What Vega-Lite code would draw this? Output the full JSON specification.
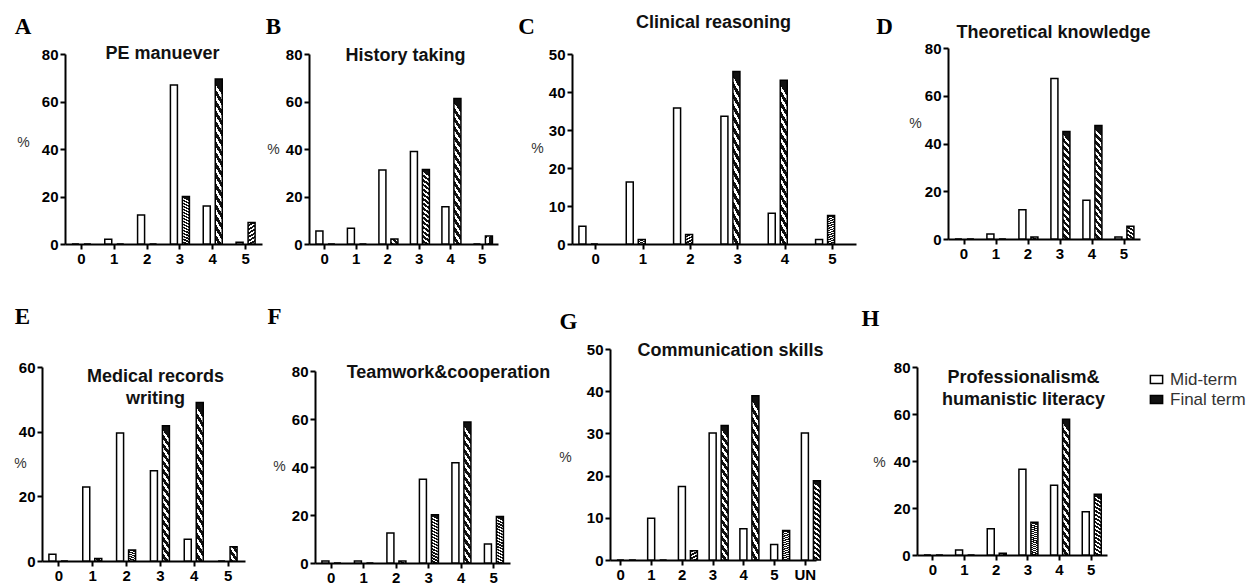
{
 "$schema": "https://vega.github.io/schema/vega-lite/v6.json",
 "background": "white",
 "padding": {"left": 13, "top": 13, "right": 5, "bottom": 5},
 "datasets": {
  "A": [
   {"cat":"0","term":"Mid-term","pct":0},{"cat":"0","term":"Final term","pct":0},
   {"cat":"1","term":"Mid-term","pct":2.0},{"cat":"1","term":"Final term","pct":0},
   {"cat":"2","term":"Mid-term","pct":12.2},{"cat":"2","term":"Final term","pct":0},
   {"cat":"3","term":"Mid-term","pct":67.0},{"cat":"3","term":"Final term","pct":20.0},
   {"cat":"4","term":"Mid-term","pct":16.0},{"cat":"4","term":"Final term","pct":69.5},
   {"cat":"5","term":"Mid-term","pct":0.7},{"cat":"5","term":"Final term","pct":9.1}
  ],
  "B": [
   {"cat":"0","term":"Mid-term","pct":5.5},{"cat":"0","term":"Final term","pct":0},
   {"cat":"1","term":"Mid-term","pct":6.6},{"cat":"1","term":"Final term","pct":0},
   {"cat":"2","term":"Mid-term","pct":31.2},{"cat":"2","term":"Final term","pct":2.1},
   {"cat":"3","term":"Mid-term","pct":38.9},{"cat":"3","term":"Final term","pct":31.4},
   {"cat":"4","term":"Mid-term","pct":15.7},{"cat":"4","term":"Final term","pct":61.3},
   {"cat":"5","term":"Mid-term","pct":0},{"cat":"5","term":"Final term","pct":3.4}
  ],
  "C": [
   {"cat":"0","term":"Mid-term","pct":4.7},{"cat":"0","term":"Final term","pct":0},
   {"cat":"1","term":"Mid-term","pct":16.3},{"cat":"1","term":"Final term","pct":1.2},
   {"cat":"2","term":"Mid-term","pct":35.8},{"cat":"2","term":"Final term","pct":2.5},
   {"cat":"3","term":"Mid-term","pct":33.6},{"cat":"3","term":"Final term","pct":45.4},
   {"cat":"4","term":"Mid-term","pct":8.1},{"cat":"4","term":"Final term","pct":43.1},
   {"cat":"5","term":"Mid-term","pct":1.2},{"cat":"5","term":"Final term","pct":7.5}
  ],
  "D": [
   {"cat":"0","term":"Mid-term","pct":0},{"cat":"0","term":"Final term","pct":0},
   {"cat":"1","term":"Mid-term","pct":2.1},{"cat":"1","term":"Final term","pct":0},
   {"cat":"2","term":"Mid-term","pct":12.3},{"cat":"2","term":"Final term","pct":0.8},
   {"cat":"3","term":"Mid-term","pct":67.2},{"cat":"3","term":"Final term","pct":45.0},
   {"cat":"4","term":"Mid-term","pct":16.2},{"cat":"4","term":"Final term","pct":47.5},
   {"cat":"5","term":"Mid-term","pct":0.8},{"cat":"5","term":"Final term","pct":5.3}
  ],
  "E": [
   {"cat":"0","term":"Mid-term","pct":2.1},{"cat":"0","term":"Final term","pct":0},
   {"cat":"1","term":"Mid-term","pct":22.9},{"cat":"1","term":"Final term","pct":0.8},
   {"cat":"2","term":"Mid-term","pct":39.6},{"cat":"2","term":"Final term","pct":3.4},
   {"cat":"3","term":"Mid-term","pct":27.9},{"cat":"3","term":"Final term","pct":41.8},
   {"cat":"4","term":"Mid-term","pct":6.7},{"cat":"4","term":"Final term","pct":49.0},
   {"cat":"5","term":"Mid-term","pct":0},{"cat":"5","term":"Final term","pct":4.4}
  ],
  "F": [
   {"cat":"0","term":"Mid-term","pct":0.8},{"cat":"0","term":"Final term","pct":0},
   {"cat":"1","term":"Mid-term","pct":0.8},{"cat":"1","term":"Final term","pct":0},
   {"cat":"2","term":"Mid-term","pct":12.5},{"cat":"2","term":"Final term","pct":0.8},
   {"cat":"3","term":"Mid-term","pct":34.9},{"cat":"3","term":"Final term","pct":20.1},
   {"cat":"4","term":"Mid-term","pct":41.8},{"cat":"4","term":"Final term","pct":58.8},
   {"cat":"5","term":"Mid-term","pct":7.9},{"cat":"5","term":"Final term","pct":19.4}
  ],
  "G": [
   {"cat":"0","term":"Mid-term","pct":0},{"cat":"0","term":"Final term","pct":0},
   {"cat":"1","term":"Mid-term","pct":9.9},{"cat":"1","term":"Final term","pct":0},
   {"cat":"2","term":"Mid-term","pct":17.4},{"cat":"2","term":"Final term","pct":2.2},
   {"cat":"3","term":"Mid-term","pct":30.1},{"cat":"3","term":"Final term","pct":31.9},
   {"cat":"4","term":"Mid-term","pct":7.4},{"cat":"4","term":"Final term","pct":38.9},
   {"cat":"5","term":"Mid-term","pct":3.7},{"cat":"5","term":"Final term","pct":7.0},
   {"cat":"UN","term":"Mid-term","pct":30.1},{"cat":"UN","term":"Final term","pct":18.8}
  ],
  "H": [
   {"cat":"0","term":"Mid-term","pct":0},{"cat":"0","term":"Final term","pct":0},
   {"cat":"1","term":"Mid-term","pct":2.1},{"cat":"1","term":"Final term","pct":0},
   {"cat":"2","term":"Mid-term","pct":11.2},{"cat":"2","term":"Final term","pct":0.7},
   {"cat":"3","term":"Mid-term","pct":36.5},{"cat":"3","term":"Final term","pct":13.9},
   {"cat":"4","term":"Mid-term","pct":29.7},{"cat":"4","term":"Final term","pct":57.8},
   {"cat":"5","term":"Mid-term","pct":18.4},{"cat":"5","term":"Final term","pct":25.9}
  ]
 },
 "concat": [
  {
   "width": 267, "height": 190,
   "data": {"name": "A"},
   "layer": [
    {"transform": [{"filter": "datum.term === 'Mid-term'"}],
     "mark": {"type": "bar", "fill": "white", "stroke": "black", "strokeWidth": 1.5},
     "encoding": {
      "x": {"field": "cat", "type": "nominal", "scale": {"domain": ["0","1","2","3","4","5"], "range": [23, 220], "paddingInner": 0, "paddingOuter": 0}, "axis": {"title": "A", "titleX": -19.5, "titleY": -211}},
      "xOffset": {"field": "term", "type": "nominal", "scale": {"domain": ["Mid-term","Final term"], "paddingInner": 0.4167, "paddingOuter": 0.576}},
      "y": {"field": "pct", "type": "quantitative", "scale": {"domain": [0, 80], "nice": false}, "axis": {"values": [0,20,40,60,80], "title": "%", "offset": -23, "titleX": -42, "titleY": 88}}
     }},
    {"transform": [{"filter": "datum.term === 'Final term'"}],
     "mark": {"type": "bar", "stroke": "black", "strokeWidth": 1.5, "fill": {"gradient": "linear", "x1": 0.07, "y1": 0, "x2": 0, "y2": 1, "stops": [{"offset": 0, "color": "#111111"}, {"offset": 0.0344, "color": "#111111"}, {"offset": 0.0344, "color": "#ffffff"}, {"offset": 0.0625, "color": "#ffffff"}, {"offset": 0.0625, "color": "#111111"}, {"offset": 0.0969, "color": "#111111"}, {"offset": 0.0969, "color": "#ffffff"}, {"offset": 0.125, "color": "#ffffff"}, {"offset": 0.125, "color": "#111111"}, {"offset": 0.1594, "color": "#111111"}, {"offset": 0.1594, "color": "#ffffff"}, {"offset": 0.1875, "color": "#ffffff"}, {"offset": 0.1875, "color": "#111111"}, {"offset": 0.2219, "color": "#111111"}, {"offset": 0.2219, "color": "#ffffff"}, {"offset": 0.25, "color": "#ffffff"}, {"offset": 0.25, "color": "#111111"}, {"offset": 0.2844, "color": "#111111"}, {"offset": 0.2844, "color": "#ffffff"}, {"offset": 0.3125, "color": "#ffffff"}, {"offset": 0.3125, "color": "#111111"}, {"offset": 0.3469, "color": "#111111"}, {"offset": 0.3469, "color": "#ffffff"}, {"offset": 0.375, "color": "#ffffff"}, {"offset": 0.375, "color": "#111111"}, {"offset": 0.4094, "color": "#111111"}, {"offset": 0.4094, "color": "#ffffff"}, {"offset": 0.4375, "color": "#ffffff"}, {"offset": 0.4375, "color": "#111111"}, {"offset": 0.4719, "color": "#111111"}, {"offset": 0.4719, "color": "#ffffff"}, {"offset": 0.5, "color": "#ffffff"}, {"offset": 0.5, "color": "#111111"}, {"offset": 0.5344, "color": "#111111"}, {"offset": 0.5344, "color": "#ffffff"}, {"offset": 0.5625, "color": "#ffffff"}, {"offset": 0.5625, "color": "#111111"}, {"offset": 0.5969, "color": "#111111"}, {"offset": 0.5969, "color": "#ffffff"}, {"offset": 0.625, "color": "#ffffff"}, {"offset": 0.625, "color": "#111111"}, {"offset": 0.6594, "color": "#111111"}, {"offset": 0.6594, "color": "#ffffff"}, {"offset": 0.6875, "color": "#ffffff"}, {"offset": 0.6875, "color": "#111111"}, {"offset": 0.7219, "color": "#111111"}, {"offset": 0.7219, "color": "#ffffff"}, {"offset": 0.75, "color": "#ffffff"}, {"offset": 0.75, "color": "#111111"}, {"offset": 0.7844, "color": "#111111"}, {"offset": 0.7844, "color": "#ffffff"}, {"offset": 0.8125, "color": "#ffffff"}, {"offset": 0.8125, "color": "#111111"}, {"offset": 0.8469, "color": "#111111"}, {"offset": 0.8469, "color": "#ffffff"}, {"offset": 0.875, "color": "#ffffff"}, {"offset": 0.875, "color": "#111111"}, {"offset": 0.9094, "color": "#111111"}, {"offset": 0.9094, "color": "#ffffff"}, {"offset": 0.9375, "color": "#ffffff"}, {"offset": 0.9375, "color": "#111111"}, {"offset": 0.9719, "color": "#111111"}, {"offset": 0.9719, "color": "#ffffff"}, {"offset": 1, "color": "#ffffff"}]}},
     "encoding": {
      "x": {"field": "cat", "type": "nominal", "axis": {"orient": "top", "title": "PE manuever", "titleX": 120, "titleY": -1}},
      "xOffset": {"field": "term", "type": "nominal"},
      "y": {"field": "pct", "type": "quantitative", "axis": null}
     }}
   ],
   "resolve": {"axis": {"x": "independent", "y": "independent"}}
  },
  {
   "width": 263, "height": 190,
   "data": {"name": "B"},
   "layer": [
    {"transform": [{"filter": "datum.term === 'Mid-term'"}],
     "mark": {"type": "bar", "fill": "white", "stroke": "black", "strokeWidth": 1.5},
     "encoding": {
      "x": {"field": "cat", "type": "nominal", "scale": {"domain": ["0","1","2","3","4","5"], "range": [0, 189], "paddingInner": 0, "paddingOuter": 0}, "axis": {"title": "B", "titleX": -36, "titleY": -211}},
      "xOffset": {"field": "term", "type": "nominal", "scale": {"domain": ["Mid-term","Final term"], "paddingInner": 0.4167, "paddingOuter": 0.521}},
      "y": {"field": "pct", "type": "quantitative", "scale": {"domain": [0, 80], "nice": false}, "axis": {"values": [0,20,40,60,80], "title": "%", "titleX": -36, "titleY": 95}}
     }},
    {"transform": [{"filter": "datum.term === 'Final term'"}],
     "mark": {"type": "bar", "stroke": "black", "strokeWidth": 1.5, "fill": {"gradient": "linear", "x1": 0.07, "y1": 0, "x2": 0, "y2": 1, "stops": [{"offset": 0, "color": "#111111"}, {"offset": 0.0344, "color": "#111111"}, {"offset": 0.0344, "color": "#ffffff"}, {"offset": 0.0625, "color": "#ffffff"}, {"offset": 0.0625, "color": "#111111"}, {"offset": 0.0969, "color": "#111111"}, {"offset": 0.0969, "color": "#ffffff"}, {"offset": 0.125, "color": "#ffffff"}, {"offset": 0.125, "color": "#111111"}, {"offset": 0.1594, "color": "#111111"}, {"offset": 0.1594, "color": "#ffffff"}, {"offset": 0.1875, "color": "#ffffff"}, {"offset": 0.1875, "color": "#111111"}, {"offset": 0.2219, "color": "#111111"}, {"offset": 0.2219, "color": "#ffffff"}, {"offset": 0.25, "color": "#ffffff"}, {"offset": 0.25, "color": "#111111"}, {"offset": 0.2844, "color": "#111111"}, {"offset": 0.2844, "color": "#ffffff"}, {"offset": 0.3125, "color": "#ffffff"}, {"offset": 0.3125, "color": "#111111"}, {"offset": 0.3469, "color": "#111111"}, {"offset": 0.3469, "color": "#ffffff"}, {"offset": 0.375, "color": "#ffffff"}, {"offset": 0.375, "color": "#111111"}, {"offset": 0.4094, "color": "#111111"}, {"offset": 0.4094, "color": "#ffffff"}, {"offset": 0.4375, "color": "#ffffff"}, {"offset": 0.4375, "color": "#111111"}, {"offset": 0.4719, "color": "#111111"}, {"offset": 0.4719, "color": "#ffffff"}, {"offset": 0.5, "color": "#ffffff"}, {"offset": 0.5, "color": "#111111"}, {"offset": 0.5344, "color": "#111111"}, {"offset": 0.5344, "color": "#ffffff"}, {"offset": 0.5625, "color": "#ffffff"}, {"offset": 0.5625, "color": "#111111"}, {"offset": 0.5969, "color": "#111111"}, {"offset": 0.5969, "color": "#ffffff"}, {"offset": 0.625, "color": "#ffffff"}, {"offset": 0.625, "color": "#111111"}, {"offset": 0.6594, "color": "#111111"}, {"offset": 0.6594, "color": "#ffffff"}, {"offset": 0.6875, "color": "#ffffff"}, {"offset": 0.6875, "color": "#111111"}, {"offset": 0.7219, "color": "#111111"}, {"offset": 0.7219, "color": "#ffffff"}, {"offset": 0.75, "color": "#ffffff"}, {"offset": 0.75, "color": "#111111"}, {"offset": 0.7844, "color": "#111111"}, {"offset": 0.7844, "color": "#ffffff"}, {"offset": 0.8125, "color": "#ffffff"}, {"offset": 0.8125, "color": "#111111"}, {"offset": 0.8469, "color": "#111111"}, {"offset": 0.8469, "color": "#ffffff"}, {"offset": 0.875, "color": "#ffffff"}, {"offset": 0.875, "color": "#111111"}, {"offset": 0.9094, "color": "#111111"}, {"offset": 0.9094, "color": "#ffffff"}, {"offset": 0.9375, "color": "#ffffff"}, {"offset": 0.9375, "color": "#111111"}, {"offset": 0.9719, "color": "#111111"}, {"offset": 0.9719, "color": "#ffffff"}, {"offset": 1, "color": "#ffffff"}]}},
     "encoding": {
      "x": {"field": "cat", "type": "nominal", "axis": {"orient": "top", "title": "History taking", "titleX": 96, "titleY": 1}},
      "xOffset": {"field": "term", "type": "nominal"},
      "y": {"field": "pct", "type": "quantitative", "axis": null}
     }}
   ],
   "resolve": {"axis": {"x": "independent", "y": "independent"}}
  },
  {
   "width": 345, "height": 190,
   "data": {"name": "C"},
   "layer": [
    {"transform": [{"filter": "datum.term === 'Mid-term'"}],
     "mark": {"type": "bar", "fill": "white", "stroke": "black", "strokeWidth": 1.5},
     "encoding": {
      "x": {"field": "cat", "type": "nominal", "scale": {"domain": ["0","1","2","3","4","5"], "range": [0, 284], "paddingInner": 0, "paddingOuter": 0}, "axis": {"title": "C", "titleX": -46, "titleY": -211}},
      "xOffset": {"field": "term", "type": "nominal", "scale": {"domain": ["Mid-term","Final term"], "paddingInner": 0.4737, "paddingOuter": 0.482}},
      "y": {"field": "pct", "type": "quantitative", "scale": {"domain": [0, 50], "nice": false}, "axis": {"values": [0,10,20,30,40,50], "title": "%", "titleX": -35, "titleY": 94}}
     }},
    {"transform": [{"filter": "datum.term === 'Final term'"}],
     "mark": {"type": "bar", "stroke": "black", "strokeWidth": 1.5, "fill": {"gradient": "linear", "x1": 0.07, "y1": 0, "x2": 0, "y2": 1, "stops": [{"offset": 0, "color": "#111111"}, {"offset": 0.0344, "color": "#111111"}, {"offset": 0.0344, "color": "#ffffff"}, {"offset": 0.0625, "color": "#ffffff"}, {"offset": 0.0625, "color": "#111111"}, {"offset": 0.0969, "color": "#111111"}, {"offset": 0.0969, "color": "#ffffff"}, {"offset": 0.125, "color": "#ffffff"}, {"offset": 0.125, "color": "#111111"}, {"offset": 0.1594, "color": "#111111"}, {"offset": 0.1594, "color": "#ffffff"}, {"offset": 0.1875, "color": "#ffffff"}, {"offset": 0.1875, "color": "#111111"}, {"offset": 0.2219, "color": "#111111"}, {"offset": 0.2219, "color": "#ffffff"}, {"offset": 0.25, "color": "#ffffff"}, {"offset": 0.25, "color": "#111111"}, {"offset": 0.2844, "color": "#111111"}, {"offset": 0.2844, "color": "#ffffff"}, {"offset": 0.3125, "color": "#ffffff"}, {"offset": 0.3125, "color": "#111111"}, {"offset": 0.3469, "color": "#111111"}, {"offset": 0.3469, "color": "#ffffff"}, {"offset": 0.375, "color": "#ffffff"}, {"offset": 0.375, "color": "#111111"}, {"offset": 0.4094, "color": "#111111"}, {"offset": 0.4094, "color": "#ffffff"}, {"offset": 0.4375, "color": "#ffffff"}, {"offset": 0.4375, "color": "#111111"}, {"offset": 0.4719, "color": "#111111"}, {"offset": 0.4719, "color": "#ffffff"}, {"offset": 0.5, "color": "#ffffff"}, {"offset": 0.5, "color": "#111111"}, {"offset": 0.5344, "color": "#111111"}, {"offset": 0.5344, "color": "#ffffff"}, {"offset": 0.5625, "color": "#ffffff"}, {"offset": 0.5625, "color": "#111111"}, {"offset": 0.5969, "color": "#111111"}, {"offset": 0.5969, "color": "#ffffff"}, {"offset": 0.625, "color": "#ffffff"}, {"offset": 0.625, "color": "#111111"}, {"offset": 0.6594, "color": "#111111"}, {"offset": 0.6594, "color": "#ffffff"}, {"offset": 0.6875, "color": "#ffffff"}, {"offset": 0.6875, "color": "#111111"}, {"offset": 0.7219, "color": "#111111"}, {"offset": 0.7219, "color": "#ffffff"}, {"offset": 0.75, "color": "#ffffff"}, {"offset": 0.75, "color": "#111111"}, {"offset": 0.7844, "color": "#111111"}, {"offset": 0.7844, "color": "#ffffff"}, {"offset": 0.8125, "color": "#ffffff"}, {"offset": 0.8125, "color": "#111111"}, {"offset": 0.8469, "color": "#111111"}, {"offset": 0.8469, "color": "#ffffff"}, {"offset": 0.875, "color": "#ffffff"}, {"offset": 0.875, "color": "#111111"}, {"offset": 0.9094, "color": "#111111"}, {"offset": 0.9094, "color": "#ffffff"}, {"offset": 0.9375, "color": "#ffffff"}, {"offset": 0.9375, "color": "#111111"}, {"offset": 0.9719, "color": "#111111"}, {"offset": 0.9719, "color": "#ffffff"}, {"offset": 1, "color": "#ffffff"}]}},
     "encoding": {
      "x": {"field": "cat", "type": "nominal", "axis": {"orient": "top", "title": "Clinical reasoning", "titleX": 141, "titleY": -32}},
      "xOffset": {"field": "term", "type": "nominal"},
      "y": {"field": "pct", "type": "quantitative", "axis": null}
     }}
   ],
   "resolve": {"axis": {"x": "independent", "y": "independent"}}
  },
  {
   "width": 223, "height": 185,
   "data": {"name": "D"},
   "layer": [
    {"transform": [{"filter": "datum.term === 'Mid-term'"}],
     "mark": {"type": "bar", "fill": "white", "stroke": "black", "strokeWidth": 1.5},
     "encoding": {
      "x": {"field": "cat", "type": "nominal", "scale": {"domain": ["0","1","2","3","4","5"], "range": [31, 223], "paddingInner": 0, "paddingOuter": 0}, "axis": {"title": "D", "titleX": -33, "titleY": -206}},
      "xOffset": {"field": "term", "type": "nominal", "scale": {"domain": ["Mid-term","Final term"], "paddingInner": 0.4167, "paddingOuter": 0.542}},
      "y": {"field": "pct", "type": "quantitative", "scale": {"domain": [0, 80], "nice": false, "range": [185, -6]}, "axis": {"values": [0,20,40,60,80], "title": "%", "offset": -31, "titleX": -33, "titleY": 69}}
     }},
    {"transform": [{"filter": "datum.term === 'Final term'"}],
     "mark": {"type": "bar", "stroke": "black", "strokeWidth": 1.5, "fill": {"gradient": "linear", "x1": 0.07, "y1": 0, "x2": 0, "y2": 1, "stops": [{"offset": 0, "color": "#111111"}, {"offset": 0.0344, "color": "#111111"}, {"offset": 0.0344, "color": "#ffffff"}, {"offset": 0.0625, "color": "#ffffff"}, {"offset": 0.0625, "color": "#111111"}, {"offset": 0.0969, "color": "#111111"}, {"offset": 0.0969, "color": "#ffffff"}, {"offset": 0.125, "color": "#ffffff"}, {"offset": 0.125, "color": "#111111"}, {"offset": 0.1594, "color": "#111111"}, {"offset": 0.1594, "color": "#ffffff"}, {"offset": 0.1875, "color": "#ffffff"}, {"offset": 0.1875, "color": "#111111"}, {"offset": 0.2219, "color": "#111111"}, {"offset": 0.2219, "color": "#ffffff"}, {"offset": 0.25, "color": "#ffffff"}, {"offset": 0.25, "color": "#111111"}, {"offset": 0.2844, "color": "#111111"}, {"offset": 0.2844, "color": "#ffffff"}, {"offset": 0.3125, "color": "#ffffff"}, {"offset": 0.3125, "color": "#111111"}, {"offset": 0.3469, "color": "#111111"}, {"offset": 0.3469, "color": "#ffffff"}, {"offset": 0.375, "color": "#ffffff"}, {"offset": 0.375, "color": "#111111"}, {"offset": 0.4094, "color": "#111111"}, {"offset": 0.4094, "color": "#ffffff"}, {"offset": 0.4375, "color": "#ffffff"}, {"offset": 0.4375, "color": "#111111"}, {"offset": 0.4719, "color": "#111111"}, {"offset": 0.4719, "color": "#ffffff"}, {"offset": 0.5, "color": "#ffffff"}, {"offset": 0.5, "color": "#111111"}, {"offset": 0.5344, "color": "#111111"}, {"offset": 0.5344, "color": "#ffffff"}, {"offset": 0.5625, "color": "#ffffff"}, {"offset": 0.5625, "color": "#111111"}, {"offset": 0.5969, "color": "#111111"}, {"offset": 0.5969, "color": "#ffffff"}, {"offset": 0.625, "color": "#ffffff"}, {"offset": 0.625, "color": "#111111"}, {"offset": 0.6594, "color": "#111111"}, {"offset": 0.6594, "color": "#ffffff"}, {"offset": 0.6875, "color": "#ffffff"}, {"offset": 0.6875, "color": "#111111"}, {"offset": 0.7219, "color": "#111111"}, {"offset": 0.7219, "color": "#ffffff"}, {"offset": 0.75, "color": "#ffffff"}, {"offset": 0.75, "color": "#111111"}, {"offset": 0.7844, "color": "#111111"}, {"offset": 0.7844, "color": "#ffffff"}, {"offset": 0.8125, "color": "#ffffff"}, {"offset": 0.8125, "color": "#111111"}, {"offset": 0.8469, "color": "#111111"}, {"offset": 0.8469, "color": "#ffffff"}, {"offset": 0.875, "color": "#ffffff"}, {"offset": 0.875, "color": "#111111"}, {"offset": 0.9094, "color": "#111111"}, {"offset": 0.9094, "color": "#ffffff"}, {"offset": 0.9375, "color": "#ffffff"}, {"offset": 0.9375, "color": "#111111"}, {"offset": 0.9719, "color": "#111111"}, {"offset": 0.9719, "color": "#ffffff"}, {"offset": 1, "color": "#ffffff"}]}},
     "encoding": {
      "x": {"field": "cat", "type": "nominal", "axis": {"orient": "top", "title": "Theoretical knowledge", "titleX": 136, "titleY": -22}},
      "xOffset": {"field": "term", "type": "nominal"},
      "y": {"field": "pct", "type": "quantitative", "axis": null}
     }}
   ],
   "resolve": {"axis": {"x": "independent", "y": "independent"}}
  },
  {
   "width": 267, "height": 194,
   "data": {"name": "E"},
   "layer": [
    {"transform": [{"filter": "datum.term === 'Mid-term'"}],
     "mark": {"type": "bar", "fill": "white", "stroke": "black", "strokeWidth": 1.5},
     "encoding": {
      "x": {"field": "cat", "type": "nominal", "scale": {"domain": ["0","1","2","3","4","5"], "range": [0, 203], "paddingInner": 0, "paddingOuter": 0}, "axis": {"title": "E", "titleX": -20, "titleY": -238}},
      "xOffset": {"field": "term", "type": "nominal", "scale": {"domain": ["Mid-term","Final term"], "paddingInner": 0.4167, "paddingOuter": 0.618}},
      "y": {"field": "pct", "type": "quantitative", "scale": {"domain": [0, 60], "nice": false}, "axis": {"values": [0,20,40,60], "title": "%", "titleX": -22, "titleY": 96}}
     }},
    {"transform": [{"filter": "datum.term === 'Final term'"}],
     "mark": {"type": "bar", "stroke": "black", "strokeWidth": 1.5, "fill": {"gradient": "linear", "x1": 0.07, "y1": 0, "x2": 0, "y2": 1, "stops": [{"offset": 0, "color": "#111111"}, {"offset": 0.0344, "color": "#111111"}, {"offset": 0.0344, "color": "#ffffff"}, {"offset": 0.0625, "color": "#ffffff"}, {"offset": 0.0625, "color": "#111111"}, {"offset": 0.0969, "color": "#111111"}, {"offset": 0.0969, "color": "#ffffff"}, {"offset": 0.125, "color": "#ffffff"}, {"offset": 0.125, "color": "#111111"}, {"offset": 0.1594, "color": "#111111"}, {"offset": 0.1594, "color": "#ffffff"}, {"offset": 0.1875, "color": "#ffffff"}, {"offset": 0.1875, "color": "#111111"}, {"offset": 0.2219, "color": "#111111"}, {"offset": 0.2219, "color": "#ffffff"}, {"offset": 0.25, "color": "#ffffff"}, {"offset": 0.25, "color": "#111111"}, {"offset": 0.2844, "color": "#111111"}, {"offset": 0.2844, "color": "#ffffff"}, {"offset": 0.3125, "color": "#ffffff"}, {"offset": 0.3125, "color": "#111111"}, {"offset": 0.3469, "color": "#111111"}, {"offset": 0.3469, "color": "#ffffff"}, {"offset": 0.375, "color": "#ffffff"}, {"offset": 0.375, "color": "#111111"}, {"offset": 0.4094, "color": "#111111"}, {"offset": 0.4094, "color": "#ffffff"}, {"offset": 0.4375, "color": "#ffffff"}, {"offset": 0.4375, "color": "#111111"}, {"offset": 0.4719, "color": "#111111"}, {"offset": 0.4719, "color": "#ffffff"}, {"offset": 0.5, "color": "#ffffff"}, {"offset": 0.5, "color": "#111111"}, {"offset": 0.5344, "color": "#111111"}, {"offset": 0.5344, "color": "#ffffff"}, {"offset": 0.5625, "color": "#ffffff"}, {"offset": 0.5625, "color": "#111111"}, {"offset": 0.5969, "color": "#111111"}, {"offset": 0.5969, "color": "#ffffff"}, {"offset": 0.625, "color": "#ffffff"}, {"offset": 0.625, "color": "#111111"}, {"offset": 0.6594, "color": "#111111"}, {"offset": 0.6594, "color": "#ffffff"}, {"offset": 0.6875, "color": "#ffffff"}, {"offset": 0.6875, "color": "#111111"}, {"offset": 0.7219, "color": "#111111"}, {"offset": 0.7219, "color": "#ffffff"}, {"offset": 0.75, "color": "#ffffff"}, {"offset": 0.75, "color": "#111111"}, {"offset": 0.7844, "color": "#111111"}, {"offset": 0.7844, "color": "#ffffff"}, {"offset": 0.8125, "color": "#ffffff"}, {"offset": 0.8125, "color": "#111111"}, {"offset": 0.8469, "color": "#111111"}, {"offset": 0.8469, "color": "#ffffff"}, {"offset": 0.875, "color": "#ffffff"}, {"offset": 0.875, "color": "#111111"}, {"offset": 0.9094, "color": "#111111"}, {"offset": 0.9094, "color": "#ffffff"}, {"offset": 0.9375, "color": "#ffffff"}, {"offset": 0.9375, "color": "#111111"}, {"offset": 0.9719, "color": "#111111"}, {"offset": 0.9719, "color": "#ffffff"}, {"offset": 1, "color": "#ffffff"}]}},
     "encoding": {
      "x": {"field": "cat", "type": "nominal", "axis": {"orient": "top", "title": ["Medical records", "writing"], "titleX": 113, "titleY": 9}},
      "xOffset": {"field": "term", "type": "nominal"},
      "y": {"field": "pct", "type": "quantitative", "axis": null}
     }}
   ],
   "resolve": {"axis": {"x": "independent", "y": "independent"}}
  },
  {
   "width": 263, "height": 196,
   "data": {"name": "F"},
   "layer": [
    {"transform": [{"filter": "datum.term === 'Mid-term'"}],
     "mark": {"type": "bar", "fill": "white", "stroke": "black", "strokeWidth": 1.5},
     "encoding": {
      "x": {"field": "cat", "type": "nominal", "scale": {"domain": ["0","1","2","3","4","5"], "range": [6, 201], "paddingInner": 0, "paddingOuter": 0}, "axis": {"title": "F", "titleX": -35, "titleY": -240}},
      "xOffset": {"field": "term", "type": "nominal", "scale": {"domain": ["Mid-term","Final term"], "paddingInner": 0.4167, "paddingOuter": 0.5625}},
      "y": {"field": "pct", "type": "quantitative", "scale": {"domain": [0, 80], "nice": false, "range": [196, 4]}, "axis": {"values": [0,20,40,60,80], "title": "%", "offset": -6, "titleX": -36, "titleY": 99}}
     }},
    {"transform": [{"filter": "datum.term === 'Final term'"}],
     "mark": {"type": "bar", "stroke": "black", "strokeWidth": 1.5, "fill": {"gradient": "linear", "x1": 0.07, "y1": 0, "x2": 0, "y2": 1, "stops": [{"offset": 0, "color": "#111111"}, {"offset": 0.0344, "color": "#111111"}, {"offset": 0.0344, "color": "#ffffff"}, {"offset": 0.0625, "color": "#ffffff"}, {"offset": 0.0625, "color": "#111111"}, {"offset": 0.0969, "color": "#111111"}, {"offset": 0.0969, "color": "#ffffff"}, {"offset": 0.125, "color": "#ffffff"}, {"offset": 0.125, "color": "#111111"}, {"offset": 0.1594, "color": "#111111"}, {"offset": 0.1594, "color": "#ffffff"}, {"offset": 0.1875, "color": "#ffffff"}, {"offset": 0.1875, "color": "#111111"}, {"offset": 0.2219, "color": "#111111"}, {"offset": 0.2219, "color": "#ffffff"}, {"offset": 0.25, "color": "#ffffff"}, {"offset": 0.25, "color": "#111111"}, {"offset": 0.2844, "color": "#111111"}, {"offset": 0.2844, "color": "#ffffff"}, {"offset": 0.3125, "color": "#ffffff"}, {"offset": 0.3125, "color": "#111111"}, {"offset": 0.3469, "color": "#111111"}, {"offset": 0.3469, "color": "#ffffff"}, {"offset": 0.375, "color": "#ffffff"}, {"offset": 0.375, "color": "#111111"}, {"offset": 0.4094, "color": "#111111"}, {"offset": 0.4094, "color": "#ffffff"}, {"offset": 0.4375, "color": "#ffffff"}, {"offset": 0.4375, "color": "#111111"}, {"offset": 0.4719, "color": "#111111"}, {"offset": 0.4719, "color": "#ffffff"}, {"offset": 0.5, "color": "#ffffff"}, {"offset": 0.5, "color": "#111111"}, {"offset": 0.5344, "color": "#111111"}, {"offset": 0.5344, "color": "#ffffff"}, {"offset": 0.5625, "color": "#ffffff"}, {"offset": 0.5625, "color": "#111111"}, {"offset": 0.5969, "color": "#111111"}, {"offset": 0.5969, "color": "#ffffff"}, {"offset": 0.625, "color": "#ffffff"}, {"offset": 0.625, "color": "#111111"}, {"offset": 0.6594, "color": "#111111"}, {"offset": 0.6594, "color": "#ffffff"}, {"offset": 0.6875, "color": "#ffffff"}, {"offset": 0.6875, "color": "#111111"}, {"offset": 0.7219, "color": "#111111"}, {"offset": 0.7219, "color": "#ffffff"}, {"offset": 0.75, "color": "#ffffff"}, {"offset": 0.75, "color": "#111111"}, {"offset": 0.7844, "color": "#111111"}, {"offset": 0.7844, "color": "#ffffff"}, {"offset": 0.8125, "color": "#ffffff"}, {"offset": 0.8125, "color": "#111111"}, {"offset": 0.8469, "color": "#111111"}, {"offset": 0.8469, "color": "#ffffff"}, {"offset": 0.875, "color": "#ffffff"}, {"offset": 0.875, "color": "#111111"}, {"offset": 0.9094, "color": "#111111"}, {"offset": 0.9094, "color": "#ffffff"}, {"offset": 0.9375, "color": "#ffffff"}, {"offset": 0.9375, "color": "#111111"}, {"offset": 0.9719, "color": "#111111"}, {"offset": 0.9719, "color": "#ffffff"}, {"offset": 1, "color": "#ffffff"}]}},
     "encoding": {
      "x": {"field": "cat", "type": "nominal", "axis": {"orient": "top", "title": "Teamwork&cooperation", "titleX": 139, "titleY": 5}},
      "xOffset": {"field": "term", "type": "nominal"},
      "y": {"field": "pct", "type": "quantitative", "axis": null}
     }}
   ],
   "resolve": {"axis": {"x": "independent", "y": "independent"}}
  },
  {
   "width": 345, "height": 193,
   "data": {"name": "G"},
   "layer": [
    {"transform": [{"filter": "datum.term === 'Mid-term'"}],
     "mark": {"type": "bar", "fill": "white", "stroke": "black", "strokeWidth": 1.5},
     "encoding": {
      "x": {"field": "cat", "type": "nominal", "scale": {"domain": ["0","1","2","3","4","5","UN"], "range": [38, 244], "paddingInner": 0.3, "paddingOuter": 0}, "axis": {"title": "G", "titleX": -4, "titleY": -232}},
      "xOffset": {"field": "term", "type": "nominal", "scale": {"domain": ["Mid-term","Final term"], "paddingInner": 0.4167, "paddingOuter": 0.105}},
      "y": {"field": "pct", "type": "quantitative", "scale": {"domain": [0, 50], "nice": false, "range": [193, -18]}, "axis": {"values": [0,10,20,30,40,50], "title": "%", "offset": -38, "titleX": -45, "titleY": 90}}
     }},
    {"transform": [{"filter": "datum.term === 'Final term'"}],
     "mark": {"type": "bar", "stroke": "black", "strokeWidth": 1.5, "fill": {"gradient": "linear", "x1": 0.07, "y1": 0, "x2": 0, "y2": 1, "stops": [{"offset": 0, "color": "#111111"}, {"offset": 0.0344, "color": "#111111"}, {"offset": 0.0344, "color": "#ffffff"}, {"offset": 0.0625, "color": "#ffffff"}, {"offset": 0.0625, "color": "#111111"}, {"offset": 0.0969, "color": "#111111"}, {"offset": 0.0969, "color": "#ffffff"}, {"offset": 0.125, "color": "#ffffff"}, {"offset": 0.125, "color": "#111111"}, {"offset": 0.1594, "color": "#111111"}, {"offset": 0.1594, "color": "#ffffff"}, {"offset": 0.1875, "color": "#ffffff"}, {"offset": 0.1875, "color": "#111111"}, {"offset": 0.2219, "color": "#111111"}, {"offset": 0.2219, "color": "#ffffff"}, {"offset": 0.25, "color": "#ffffff"}, {"offset": 0.25, "color": "#111111"}, {"offset": 0.2844, "color": "#111111"}, {"offset": 0.2844, "color": "#ffffff"}, {"offset": 0.3125, "color": "#ffffff"}, {"offset": 0.3125, "color": "#111111"}, {"offset": 0.3469, "color": "#111111"}, {"offset": 0.3469, "color": "#ffffff"}, {"offset": 0.375, "color": "#ffffff"}, {"offset": 0.375, "color": "#111111"}, {"offset": 0.4094, "color": "#111111"}, {"offset": 0.4094, "color": "#ffffff"}, {"offset": 0.4375, "color": "#ffffff"}, {"offset": 0.4375, "color": "#111111"}, {"offset": 0.4719, "color": "#111111"}, {"offset": 0.4719, "color": "#ffffff"}, {"offset": 0.5, "color": "#ffffff"}, {"offset": 0.5, "color": "#111111"}, {"offset": 0.5344, "color": "#111111"}, {"offset": 0.5344, "color": "#ffffff"}, {"offset": 0.5625, "color": "#ffffff"}, {"offset": 0.5625, "color": "#111111"}, {"offset": 0.5969, "color": "#111111"}, {"offset": 0.5969, "color": "#ffffff"}, {"offset": 0.625, "color": "#ffffff"}, {"offset": 0.625, "color": "#111111"}, {"offset": 0.6594, "color": "#111111"}, {"offset": 0.6594, "color": "#ffffff"}, {"offset": 0.6875, "color": "#ffffff"}, {"offset": 0.6875, "color": "#111111"}, {"offset": 0.7219, "color": "#111111"}, {"offset": 0.7219, "color": "#ffffff"}, {"offset": 0.75, "color": "#ffffff"}, {"offset": 0.75, "color": "#111111"}, {"offset": 0.7844, "color": "#111111"}, {"offset": 0.7844, "color": "#ffffff"}, {"offset": 0.8125, "color": "#ffffff"}, {"offset": 0.8125, "color": "#111111"}, {"offset": 0.8469, "color": "#111111"}, {"offset": 0.8469, "color": "#ffffff"}, {"offset": 0.875, "color": "#ffffff"}, {"offset": 0.875, "color": "#111111"}, {"offset": 0.9094, "color": "#111111"}, {"offset": 0.9094, "color": "#ffffff"}, {"offset": 0.9375, "color": "#ffffff"}, {"offset": 0.9375, "color": "#111111"}, {"offset": 0.9719, "color": "#111111"}, {"offset": 0.9719, "color": "#ffffff"}, {"offset": 1, "color": "#ffffff"}]}},
     "encoding": {
      "x": {"field": "cat", "type": "nominal", "axis": {"orient": "top", "title": "Communication skills", "titleX": 158, "titleY": -17}},
      "xOffset": {"field": "term", "type": "nominal"},
      "y": {"field": "pct", "type": "quantitative", "axis": null}
     }}
   ],
   "resolve": {"axis": {"x": "independent", "y": "independent"}}
  },
  {
   "width": 190, "height": 188,
   "data": {"name": "H"},
   "layer": [
    {"transform": [{"filter": "datum.term === 'Mid-term'"}],
     "mark": {"type": "bar", "stroke": "black", "strokeWidth": 1.5},
     "encoding": {
      "x": {"field": "cat", "type": "nominal", "scale": {"domain": ["0","1","2","3","4","5"], "range": [0, 190], "paddingInner": 0, "paddingOuter": 0}, "axis": {"title": "H", "titleX": -47, "titleY": -230}},
      "xOffset": {"field": "term", "type": "nominal", "scale": {"domain": ["Mid-term","Final term"], "paddingInner": 0.4167, "paddingOuter": 0.528}},
      "y": {"field": "pct", "type": "quantitative", "scale": {"domain": [0, 80], "nice": false}, "axis": {"values": [0,20,40,60,80], "title": "%", "titleX": -38, "titleY": 95}},
      "fill": {"field": "term", "type": "nominal", "scale": {"domain": ["Mid-term","Final term"], "range": ["white", "#111111"]},
       "legend": {"orient": "none", "legendX": 231, "legendY": 4, "title": null,
        "symbolType": "M-1,-0.65H1V0.65H-1Z", "symbolSize": 150, "symbolStrokeWidth": 1.5, "symbolStrokeColor": "black",
        "labelFont": "Liberation Sans", "labelFontSize": 17, "labelColor": "#333333", "labelOffset": 5, "rowPadding": 2,
        "encode": {"symbols": {"update": {"stroke": {"value": "black"}, "strokeWidth": {"value": 1.5},
         "fill": [{"test": "datum.value === 'Final term'", "value": {"gradient": "linear", "x1": 1, "y1": 0, "x2": 0, "y2": 1, "stops": [{"offset": 0, "color": "#111111"}, {"offset": 0.14, "color": "#111111"}, {"offset": 0.14, "color": "#ffffff"}, {"offset": 0.32, "color": "#ffffff"}, {"offset": 0.32, "color": "#111111"}, {"offset": 0.5, "color": "#111111"}, {"offset": 0.5, "color": "#ffffff"}, {"offset": 0.68, "color": "#ffffff"}, {"offset": 0.68, "color": "#111111"}, {"offset": 0.86, "color": "#111111"}, {"offset": 0.86, "color": "#ffffff"}, {"offset": 1, "color": "#ffffff"}]}}, {"value": "#ffffff"}]}}}}}
     }},
    {"transform": [{"filter": "datum.term === 'Final term'"}],
     "mark": {"type": "bar", "stroke": "black", "strokeWidth": 1.5, "fill": {"gradient": "linear", "x1": 0.07, "y1": 0, "x2": 0, "y2": 1, "stops": [{"offset": 0, "color": "#111111"}, {"offset": 0.0344, "color": "#111111"}, {"offset": 0.0344, "color": "#ffffff"}, {"offset": 0.0625, "color": "#ffffff"}, {"offset": 0.0625, "color": "#111111"}, {"offset": 0.0969, "color": "#111111"}, {"offset": 0.0969, "color": "#ffffff"}, {"offset": 0.125, "color": "#ffffff"}, {"offset": 0.125, "color": "#111111"}, {"offset": 0.1594, "color": "#111111"}, {"offset": 0.1594, "color": "#ffffff"}, {"offset": 0.1875, "color": "#ffffff"}, {"offset": 0.1875, "color": "#111111"}, {"offset": 0.2219, "color": "#111111"}, {"offset": 0.2219, "color": "#ffffff"}, {"offset": 0.25, "color": "#ffffff"}, {"offset": 0.25, "color": "#111111"}, {"offset": 0.2844, "color": "#111111"}, {"offset": 0.2844, "color": "#ffffff"}, {"offset": 0.3125, "color": "#ffffff"}, {"offset": 0.3125, "color": "#111111"}, {"offset": 0.3469, "color": "#111111"}, {"offset": 0.3469, "color": "#ffffff"}, {"offset": 0.375, "color": "#ffffff"}, {"offset": 0.375, "color": "#111111"}, {"offset": 0.4094, "color": "#111111"}, {"offset": 0.4094, "color": "#ffffff"}, {"offset": 0.4375, "color": "#ffffff"}, {"offset": 0.4375, "color": "#111111"}, {"offset": 0.4719, "color": "#111111"}, {"offset": 0.4719, "color": "#ffffff"}, {"offset": 0.5, "color": "#ffffff"}, {"offset": 0.5, "color": "#111111"}, {"offset": 0.5344, "color": "#111111"}, {"offset": 0.5344, "color": "#ffffff"}, {"offset": 0.5625, "color": "#ffffff"}, {"offset": 0.5625, "color": "#111111"}, {"offset": 0.5969, "color": "#111111"}, {"offset": 0.5969, "color": "#ffffff"}, {"offset": 0.625, "color": "#ffffff"}, {"offset": 0.625, "color": "#111111"}, {"offset": 0.6594, "color": "#111111"}, {"offset": 0.6594, "color": "#ffffff"}, {"offset": 0.6875, "color": "#ffffff"}, {"offset": 0.6875, "color": "#111111"}, {"offset": 0.7219, "color": "#111111"}, {"offset": 0.7219, "color": "#ffffff"}, {"offset": 0.75, "color": "#ffffff"}, {"offset": 0.75, "color": "#111111"}, {"offset": 0.7844, "color": "#111111"}, {"offset": 0.7844, "color": "#ffffff"}, {"offset": 0.8125, "color": "#ffffff"}, {"offset": 0.8125, "color": "#111111"}, {"offset": 0.8469, "color": "#111111"}, {"offset": 0.8469, "color": "#ffffff"}, {"offset": 0.875, "color": "#ffffff"}, {"offset": 0.875, "color": "#111111"}, {"offset": 0.9094, "color": "#111111"}, {"offset": 0.9094, "color": "#ffffff"}, {"offset": 0.9375, "color": "#ffffff"}, {"offset": 0.9375, "color": "#111111"}, {"offset": 0.9719, "color": "#111111"}, {"offset": 0.9719, "color": "#ffffff"}, {"offset": 1, "color": "#ffffff"}]}},
     "encoding": {
      "x": {"field": "cat", "type": "nominal", "axis": {"orient": "top", "title": ["Professionalism&", "humanistic literacy"], "titleX": 106, "titleY": 10.5}},
      "xOffset": {"field": "term", "type": "nominal"},
      "y": {"field": "pct", "type": "quantitative", "axis": null}
     }}
   ],
   "resolve": {"axis": {"x": "independent", "y": "independent"}}
  }
 ],
 "columns": 4,
 "spacing": {"row": 123, "column": 0},
 "bounds": "flush",
 "align": "each",
 "resolve": {"scale": {"fill": "independent"}, "legend": {"fill": "independent"}},
 "config": {
  "view": {"stroke": null},
  "font": "Liberation Sans",
  "axis": {"grid": false, "domainColor": "black", "domainWidth": 2, "tickColor": "black", "tickWidth": 2, "tickSize": 5,
   "labelFont": "Liberation Sans", "labelFontSize": 15, "labelFontWeight": "bold", "labelColor": "black"},
  "axisBottom": {"labelAngle": 0, "labelPadding": 2, "titleFont": "Liberation Serif", "titleFontSize": 23, "titleFontWeight": "bold", "titleColor": "black", "titleAlign": "center", "titleBaseline": "alphabetic"},
  "axisLeft": {"labelPadding": 2, "titleAngle": 0, "titleFont": "Liberation Sans", "titleFontSize": 14, "titleFontWeight": "normal", "titleColor": "#333333", "titleAlign": "center", "titleBaseline": "middle"},
  "axisTop": {"domain": false, "ticks": false, "labels": false, "titleFont": "Liberation Sans", "titleFontSize": 18, "titleFontWeight": "bold", "titleColor": "#111111", "titleAlign": "center", "titleBaseline": "middle", "titleLineHeight": 22}
 }
}
